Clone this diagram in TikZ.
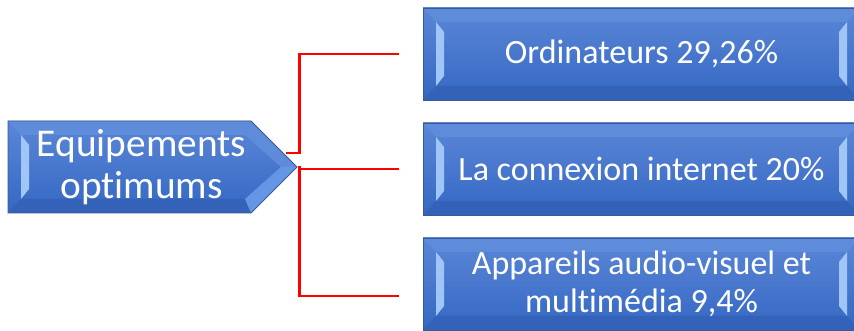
\documentclass[tikz,border=0pt]{standalone}
\usepackage{fontspec}
\setmainfont{Carlito}[Ligatures=NoCommon]
\usepackage{xcolor}
\usetikzlibrary{calc,shapes.symbols}

\definecolor{bevtop}{HTML}{5A86D6}
\definecolor{bevbot}{HTML}{3568C4}
\definecolor{bevedge}{HTML}{3A5A96}
\definecolor{bevlight}{HTML}{A0C6F8}
\definecolor{bevhigh}{HTML}{5F8CDA}
\definecolor{bevdark}{HTML}{3362B8}
\definecolor{bevfacet}{HTML}{6596E6}

\begin{document}
\begin{tikzpicture}[
  x=0.75pt, y=-0.75pt,
  bev/.style={draw=bevedge, line width=0.6pt, top color=bevtop, bottom color=bevbot,
              text=white, inner sep=0pt, align=center},
  itembox/.style={bev, rectangle, minimum width=327.75pt, minimum height=69pt,
              font=\fontsize{25.5pt}{28.5pt}\selectfont,
              path picture={
                \coordinate (pA) at (path picture bounding box.north west);
                \coordinate (pB) at (path picture bounding box.south east);
                \fill[bevhigh] (pA) -- ++(13,14) -- ($(pA -| pB)+(-13,14)$) -- (pA -| pB) -- cycle;
                \fill[bevdark] (pA |- pB) -- ++(13,-14) -- ($(pB)+(-13,-14)$) -- (pB) -- cycle;
                \fill[bevlight] ($(pA)+(13,14)$) -- ++(8,10) -- ($(pA |- pB)+(21,-24)$) -- ++(-8,10) -- cycle;
                \fill[bevlight] ($(pA -| pB)+(-13,14)$) -- ++(-8,10) -- ($(pB)+(-21,-24)$) -- ++(8,10) -- cycle;
              }},
  rootsig/.style={bev, signal, signal to=east, signal pointer angle=90,
              minimum width=216.75pt, minimum height=69pt,
              font=\fontsize{29.5pt}{32pt}\selectfont,
              path picture={
                \coordinate (pA) at (path picture bounding box.north west);
                \coordinate (pB) at (path picture bounding box.south east);
                \fill[bevhigh] (pA) -- ++(13,14) -- ($(pA -| pB)+(-52,14)$) -- ($(pA -| pB)+(-46,0)$) -- cycle;
                \fill[bevdark] (pA |- pB) -- ++(13,-14) -- ($(pB)+(-52,-14)$) -- ($(pB)+(-46,0)$) -- cycle;
                \fill[bevhigh] ($(pA -| pB)+(-46,0)$) -- ($(pB)+(0,-46)$) -- ++(-16,0) -- ($(pA -| pB)+(-52,14)$) -- cycle;
                \fill[bevfacet] ($(pB)+(-46,0)$) -- ($(pB)+(0,-46)$) -- ++(-16,0) -- ($(pB)+(-52,-14)$) -- cycle;
                \fill[bevlight] ($(pA)+(13,14)$) -- ++(8,10) -- ($(pA |- pB)+(21,-24)$) -- ++(-8,10) -- cycle;
              }},
  link/.style={draw=red, line width=2pt},
]

\useasboundingbox (0,0) rectangle (854,331);

% ---- left: the grouping arrow --------------------------------------------
\node[rootsig] (root) at (129.5,167)
  {\hspace*{18pt}Equipements\\\hspace*{18pt}optimums};

% ---- right: the three items ----------------------------------------------
\node[itembox] (item1) at (641.5,54)  {Ordinateurs 29,26\%};
\node[itembox] (item2) at (641.5,169) {La connexion internet 20\%};
\node[itembox] (item3) at (641.5,284) {Appareils audio-visuel et\\multimédia 9,4\%};

% ---- bracket ---------------------------------------------------------------
\coordinate (fork) at ([xshift=1.5pt]root.east);
\coordinate (upper) at ([shift={(-12,-14)}]root.east);

\draw[link] (upper) -- (upper -| fork) |- ([xshift=-18pt]item1.west);
\draw[link] (root.east) -| (fork) |- ([xshift=-18pt]item2.west);
\draw[link] (fork) |- ([shift={(-18pt,-9pt)}]item3.west);

\end{tikzpicture}
\end{document}
